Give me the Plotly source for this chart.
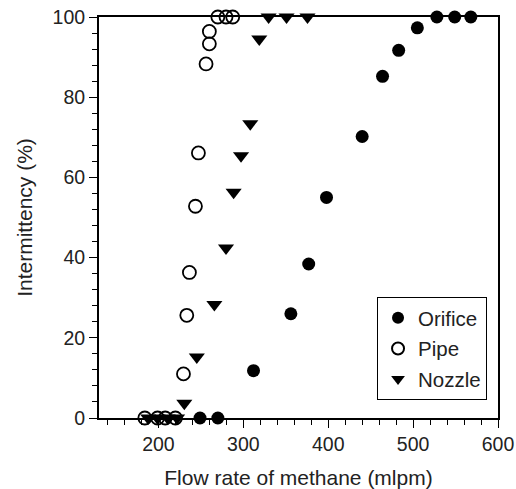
import plotly.graph_objects as go

orifice_x = [249, 270, 312, 356, 377, 398, 440, 464, 483, 505, 528, 549, 568]
orifice_y = [0, 0, 11.8, 26.0, 38.4, 55.0, 70.2, 85.2, 91.7, 97.3, 100, 100, 100]

pipe_x = [184, 199, 208, 220, 229.5, 233.4, 236.5, 243.6, 247.1, 256.1, 260, 260, 270, 279.6, 287.5]
pipe_y = [0, 0, 0, 0, 11.0, 25.6, 36.3, 52.8, 66.1, 88.3, 93.3, 96.4, 100, 100, 100]

nozzle_x = [188, 199, 211, 222, 230.5, 245.2, 265.9, 279.6, 288.6, 297.3, 308.2, 318.8, 329.8, 350.9, 375.6]
nozzle_y = [0, 0, 0, 0, 3.7, 15.2, 28.3, 42.4, 56.3, 65.4, 73.4, 94.5, 100, 100, 100]

FONT = "Liberation Sans, Arial, sans-serif"

fig = go.Figure()
fig.add_trace(go.Scatter(x=orifice_x, y=orifice_y, mode="markers", name="Orifice",
                         legendgroup="a",
                         marker=dict(symbol="circle", size=13, color="black"),
                         cliponaxis=False))
fig.add_trace(go.Scatter(x=pipe_x, y=pipe_y, mode="markers", name="Pipe",
                         legendgroup="b",
                         marker=dict(symbol="circle-open", size=13, color="black",
                                     line=dict(width=1.8, color="black")),
                         cliponaxis=False))
fig.add_trace(go.Scatter(x=nozzle_x, y=nozzle_y, mode="markers", name="Nozzle",
                         legendgroup="c",
                         marker=dict(symbol="triangle-down", size=14, color="black"),
                         cliponaxis=False))

fig.update_layout(
    width=516, height=489,
    margin=dict(l=99, r=18, t=17, b=71, autoexpand=False),
    paper_bgcolor="white", plot_bgcolor="white",
    font=dict(family=FONT, size=19.5, color="#222"),
    showlegend=True,
    legend=dict(x=0.9725, y=0.045, xanchor="right", yanchor="bottom",
                bgcolor="white", bordercolor="black", borderwidth=1,
                font=dict(size=20.5), itemsizing="constant",
                tracegroupgap=1, itemwidth=30),
)
fig.update_xaxes(range=[130, 600], dtick=100, tick0=0, automargin=False,
                 showline=True, linecolor="black", linewidth=2, mirror=True,
                 ticks="outside", ticklen=8, tickwidth=1.3, tickcolor="black",
                 minor=dict(dtick=20, tick0=0, ticks="outside", ticklen=5, tickcolor="black", tickwidth=1),
                 showgrid=False, zeroline=False,
                 title=dict(text="Flow rate of methane (mlpm)", standoff=16, font=dict(size=21)))
fig.update_yaxes(range=[0, 100], dtick=20, automargin=False,
                 showline=True, linecolor="black", linewidth=2, mirror=True,
                 ticks="outside", ticklen=8, tickwidth=1.3, tickcolor="black",
                 minor=dict(dtick=4, ticks="outside", ticklen=5, tickcolor="black", tickwidth=1),
                 showgrid=False, zeroline=False,
                 title=dict(text="Intermittency (%)", standoff=14, font=dict(size=21)))

fig.write_html("out.html")
